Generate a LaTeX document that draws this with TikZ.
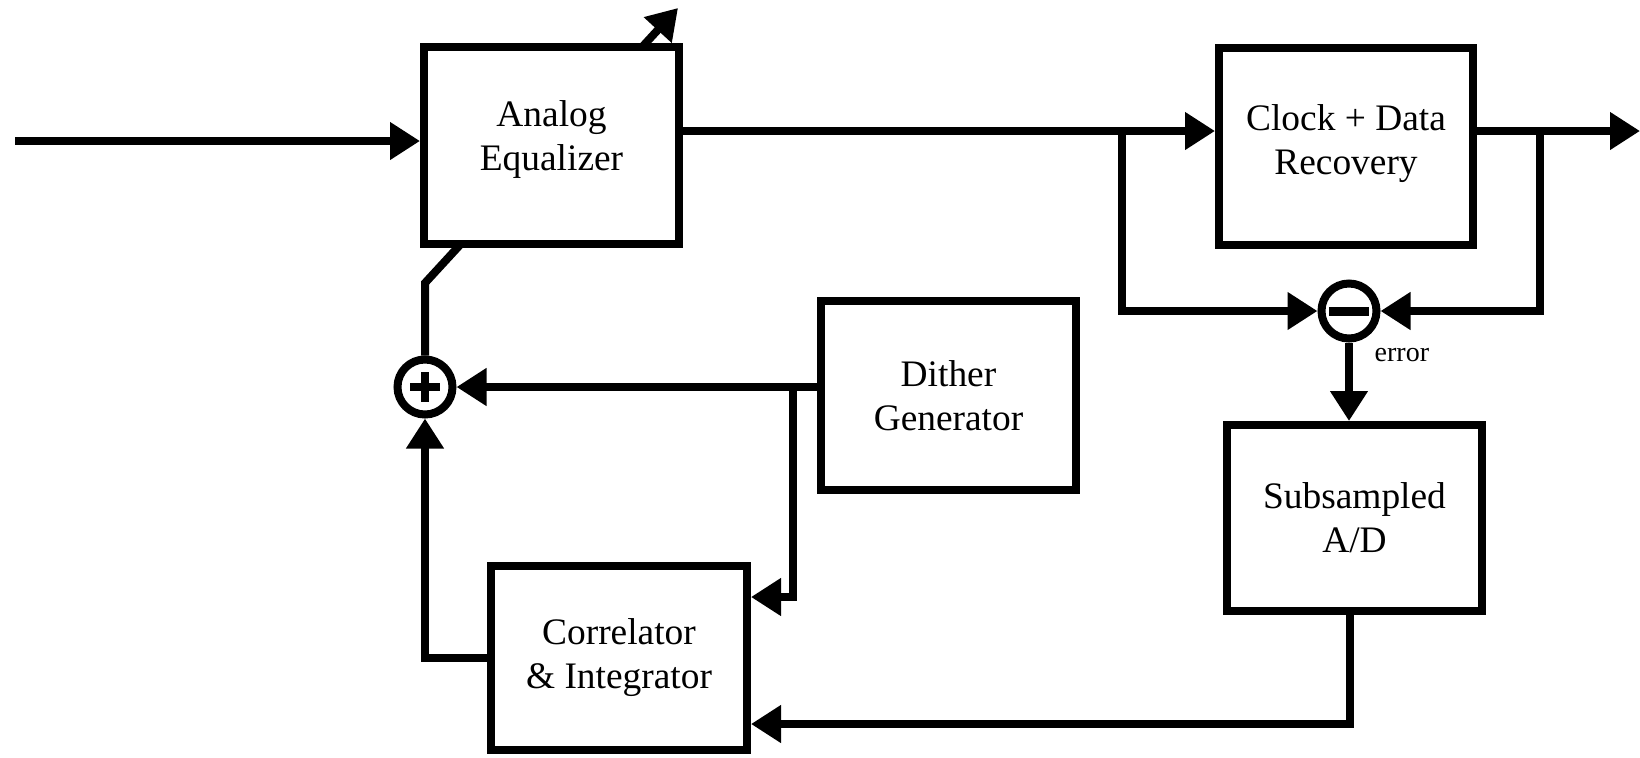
\documentclass[tikz,border=0pt]{standalone}
\usepackage{fontspec}
\setmainfont{Liberation Serif}
\usetikzlibrary{arrows.meta}
\begin{document}
\begin{tikzpicture}[x=.5pt,y=-.5pt,line width=4pt,
 blk/.style={draw,fill=white,inner sep=0pt,align=center,
 font=\fontsize{18.7}{22}\selectfont},
 sumnode/.style={draw,circle,fill=white,minimum size=27.5pt,inner sep=0pt},
 arr/.style={-{Triangle[length=15pt,width=18pt]}}]
\useasboundingbox (0,0) rectangle (1640,757);
\node[sumnode] (plus) at (425,387) {};
\draw (plus.center) +(-15,0) -- +(15,0) +(0,-15) -- +(0,15);
\node[sumnode] (minus) at (1349,311) {};
\draw[line width=4.5pt] (minus.center) +(-20,0) -- +(20,0);
% tuning arrow runs behind the equalizer
\coordinate (kink) at (425,283); \coordinate (tune) at (678,8);
\draw[arr] (plus.north) -- (kink) -- (tune);
\node[blk,minimum width=127.5pt,minimum height=98.5pt,text depth=10pt] (eq)
 at (551.5,145.5) {Analog\\Equalizer};
\node[blk,minimum width=127pt,minimum height=98.5pt,text depth=6pt] (cdr)
 at (1346,146) {Clock + Data\\Recovery};
\node[blk,minimum width=127.5pt,minimum height=94.5pt] (dith) at (948.5,395.5)
 {Dither\\Generator};
\node[blk,minimum width=127.5pt,minimum height=93pt] (ad) at (1354.5,518)
 {Subsampled\\A/D};
\node[blk,minimum width=128pt,minimum height=92pt] (corr) at (619,658)
 {Correlator\\\& Integrator};
\node[font=\fontsize{14}{16}\selectfont,anchor=west] (err) at (1364,355) {error};
\coordinate (in) at (15,141); \coordinate (out) at (1640,131);
\coordinate (tapL) at (1122,131); \coordinate (tapR) at (1540,131);
\coordinate (br) at (793,387); \coordinate (cin) at (793,597);
\coordinate (adb) at (1350,724);
\draw[arr] (in) -- (in -| eq.west);
\draw[arr] (eq.east |- tapL) -- (tapL -| cdr.west);
\draw[arr] (tapL) |- (minus.west);
\draw[arr] (cdr.east |- out) -- (out);
\draw[arr] (tapR) |- (minus.east);
\draw[arr] (minus.south) -- (minus.south |- ad.north);
\draw[arr] (ad.south -| adb) -- (adb) -- (adb -| corr.east);
\draw[arr] (dith.west |- plus) -- (plus.east);
\draw[arr] (br) -- (cin) -- (cin -| corr.east);
\draw[arr] (corr.west) -| (plus.south);
\end{tikzpicture}
\end{document}
